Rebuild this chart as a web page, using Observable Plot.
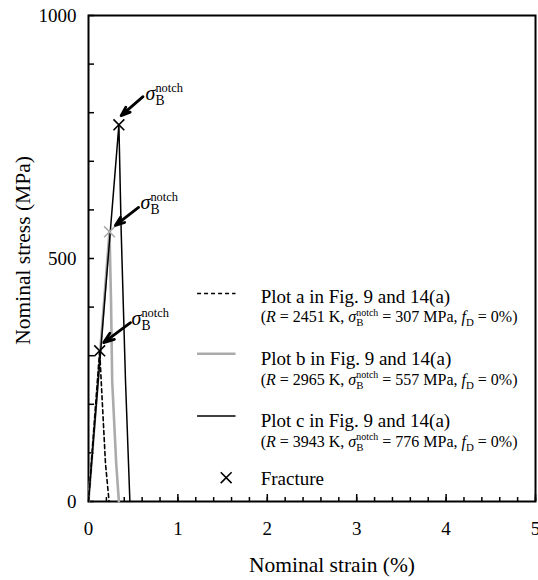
<!DOCTYPE html>
<html><head><meta charset="utf-8">
<script src="https://cdn.jsdelivr.net/npm/d3@7"></script>
<script src="https://cdn.jsdelivr.net/npm/@observablehq/plot@0.6"></script>
<style>body{margin:0;background:#fff} svg{display:block} svg text{font-family:'Liberation Serif','Times New Roman',serif}</style>
</head><body><div id="chart"></div>
<script>
// ---------- data ----------
const series = ["a", "b", "c"];
const strainA = [0, 0.125, 0.142, 0.19, 0.23];
const stressA = [0, 310, 248, 78, 0];
const strainB = [0, 0.235, 0.252, 0.265, 0.31, 0.34];
const stressB = [0, 555, 412, 248, 78, 0];
const strainC = [0, 0.34, 0.366, 0.414, 0.463];
const stressC = [0, 775, 553, 248, 0];
const fractureStrain = [0.125, 0.235, 0.34];
const fractureStress = [310, 555, 775];
const legendTitles = ["Plot a in Fig. 9 and 14(a)", "Plot b in Fig. 9 and 14(a)", "Plot c in Fig. 9 and 14(a)"];
const legendR = [2451, 2965, 3943];
const legendSigma = [307, 557, 776];
const legendFD = [0, 0, 0];
const xMajorTicks = [0, 1, 2, 3, 4, 5];
const xMinorTicks = d3.range(0, 26).map(i => i / 5);
const yLabelTicks = [0, 500, 1000];
const yMinorTicks = d3.range(0, 11).map(i => i * 100);
const xTitle = "Nominal strain (%)";
const yTitle = "Nominal stress (MPa)";
const fractureLabel = "Fracture";
const notchLabel = "*σ*_{B}^{notch}";

// ---------- annotation / legend layout (data coordinates) ----------
const arrowTail = [[0.47, 368], [0.56, 605], [0.61, 833]];
const arrowTip = [[0.17, 327], [0.30, 568], [0.365, 794]];
const labelAt = [[0.4815, 376], [0.582, 615], [0.638, 839]];
const legKeyX = [1.22, 1.65], legTextX = 1.926;
const legKeyY = [428, 304, 176], legTitleY = [420, 294, 166], legSubY = [379, 250.5, 123];
const legFracture = [1.54, 49], legFractureTextY = 46.7;

// ---------- build tables ----------
const curves = [
  ...strainA.map((x, i) => ({s: "a", x, y: stressA[i]})),
  ...strainB.map((x, i) => ({s: "b", x, y: stressB[i]})),
  ...strainC.map((x, i) => ({s: "c", x, y: stressC[i]}))
];
const fractures = series.map((s, i) => ({s, x: fractureStrain[i], y: fractureStress[i]}));
const arrows = series.map((s, i) => ({x1: arrowTail[i][0], y1: arrowTail[i][1], x2: arrowTip[i][0], y2: arrowTip[i][1]}));
const labels = series.map((s, i) => ({x: labelAt[i][0], y: labelAt[i][1], t: notchLabel}));
const legend = series.map((s, i) => ({
  s,
  title: legendTitles[i],
  sub: `(*R* = ${legendR[i]} K, *σ*_{B}^{notch} = ${legendSigma[i]} MPa, *f*_{D} = ${legendFD[i]}%)`,
  ky: legKeyY[i], ty: legTitleY[i], sy: legSubY[i]
}));

const color = {domain: series, range: ["#000000", "#ababab", "#000000"]};
const serif = "'Liberation Serif', 'Times New Roman', serif";

const plot = Plot.plot({
  width: 538, height: 580,
  marginLeft: 88, marginRight: 3, marginTop: 15, marginBottom: 79,
  style: {fontFamily: serif, fontSize: "18px", background: "#fff", color: "#000"},
  x: {domain: [0, 5], label: null},
  y: {domain: [0, 1000], label: null},
  color,
  marks: [
    // axes: inward ticks
    Plot.axisX({ticks: xMinorTicks, tickSize: -4, tickFormat: () => "", strokeWidth: 1.5}),
    Plot.axisX({ticks: xMajorTicks, tickSize: -7, tickFormat: () => "", strokeWidth: 1.5}),
    Plot.axisX({ticks: xMajorTicks, tickSize: 0, tickPadding: 20, fontSize: 19, fontFamily: serif, tickFormat: d => String(d)}),
    Plot.axisY({ticks: yMinorTicks, tickSize: -6, tickFormat: () => "", strokeWidth: 1.5}),
    Plot.axisY({ticks: yLabelTicks, tickSize: 0, tickPadding: 12, fontSize: 19, fontFamily: serif, tickFormat: d => String(d)}),
    Plot.frame({stroke: "#000", strokeWidth: 2}),
    Plot.text([xTitle], {frameAnchor: "bottom", textAnchor: "middle", lineAnchor: "middle", dx: 20, dy: 64, fontSize: 21.5, fontFamily: serif, text: d => d}),
    Plot.text([yTitle], {frameAnchor: "left", textAnchor: "middle", lineAnchor: "middle", dx: -65, dy: -8, rotate: -90, fontSize: 21.5, fontFamily: serif, text: d => d}),
    // curves
    Plot.line(curves.filter(d => d.s === "b"), {x: "x", y: "y", stroke: "s", strokeWidth: 2.6}),
    Plot.line(curves.filter(d => d.s === "a"), {x: "x", y: "y", stroke: "s", strokeWidth: 1.6, strokeDasharray: "4,3"}),
    Plot.line(curves.filter(d => d.s === "c"), {x: "x", y: "y", stroke: "s", strokeWidth: 1.5}),
    Plot.dot(fractures, {x: "x", y: "y", stroke: "s", symbol: "times", r: 5, strokeWidth: 1.6}),
    // annotations
    Plot.arrow(arrows, {x1: "x1", y1: "y1", x2: "x2", y2: "y2", stroke: "#000", strokeWidth: 2.8, headLength: 11, headAngle: 40}),
    Plot.text(labels, {x: "x", y: "y", text: "t", textAnchor: "start", fontSize: 20, fontFamily: serif}),
    // legend
    Plot.ruleY(legend.filter(d => d.s === "a"), {y: "ky", x1: legKeyX[0], x2: legKeyX[1], stroke: "s", strokeWidth: 1.6, strokeDasharray: "4,3"}),
    Plot.ruleY(legend.filter(d => d.s === "b"), {y: "ky", x1: legKeyX[0], x2: legKeyX[1], stroke: "s", strokeWidth: 2.6}),
    Plot.ruleY(legend.filter(d => d.s === "c"), {y: "ky", x1: legKeyX[0], x2: legKeyX[1], stroke: "s", strokeWidth: 1.6}),
    Plot.text(legend, {x: legTextX, y: "ty", text: "title", textAnchor: "start", fontSize: 19, fontFamily: serif}),
    Plot.text(legend, {x: legTextX, y: "sy", text: "sub", textAnchor: "start", fontSize: 16, fontFamily: serif}),
    Plot.dot([legFracture], {x: d => d[0], y: d => d[1], symbol: "times", r: 5, stroke: "#000", strokeWidth: 1.6}),
    Plot.text([fractureLabel], {x: legTextX, y: legFractureTextY, text: d => d, textAnchor: "start", fontSize: 19, fontFamily: serif})
  ]
});
document.getElementById("chart").appendChild(plot);

// rich text: *italic*, _{sub}, ^{sup} (sup stacked over a preceding sub)
const NS = "http://www.w3.org/2000/svg";
plot.querySelectorAll("text").forEach(t => {
  const s = t.textContent;
  if (!/[*_^]/.test(s)) return;
  const fs = parseFloat(getComputedStyle(t).fontSize);
  while (t.firstChild) t.removeChild(t.firstChild);
  const re = /\*([^*]+)\*|_\{([^}]*)\}|\^\{([^}]*)\}|([^*_^]+)/g;
  let m, shift = 0, subW = 0, lastSub = false;
  while ((m = re.exec(s))) {
    const ts = document.createElementNS(NS, "tspan");
    let target = 0, size = fs, dx = 0;
    if (m[1] != null) { ts.textContent = m[1]; ts.setAttribute("font-style", "italic"); }
    else if (m[2] != null) { ts.textContent = m[2]; target = 0.25 * fs; size = 0.68 * fs; }
    else if (m[3] != null) { ts.textContent = m[3]; target = -0.42 * fs; size = 0.62 * fs; if (lastSub) dx = -subW; }
    else ts.textContent = m[4];
    ts.setAttribute("font-size", size);
    const dy = target - shift;
    if (dy) ts.setAttribute("dy", dy);
    shift = target;
    if (dx) ts.setAttribute("dx", dx);
    t.appendChild(ts);
    lastSub = m[2] != null;
    if (lastSub) subW = ts.getComputedTextLength();
  }
});
</script>
</body></html>
